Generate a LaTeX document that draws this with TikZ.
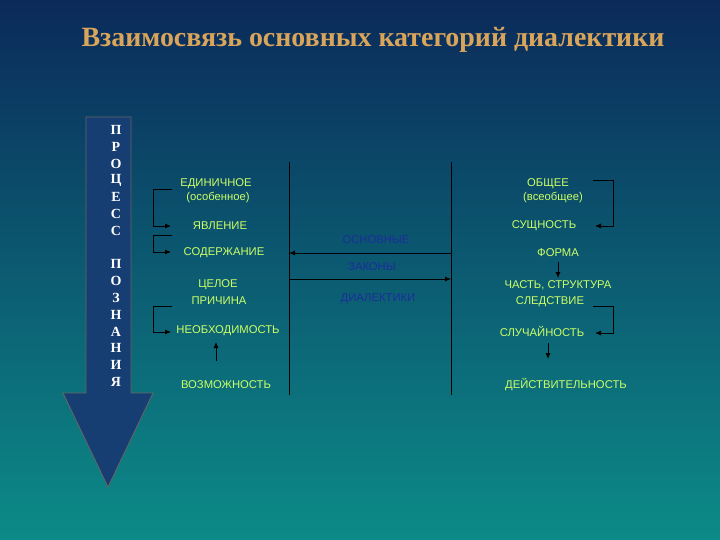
\documentclass[tikz,border=0pt]{standalone}
\usepackage{fontspec}
\setmainfont{Liberation Serif}
\setsansfont{Liberation Sans}
\usetikzlibrary{arrows.meta}

\definecolor{bgtop}{HTML}{0B2A5A}
\definecolor{bgbot}{HTML}{0C8B88}
\definecolor{titlecol}{HTML}{D9A55A}
\definecolor{catcol}{HTML}{CCFF66}
\definecolor{lawcol}{HTML}{1C2D9C}
\definecolor{arrowcol}{HTML}{173E73}

\tikzset{
  cat/.style={text=catcol, inner sep=1pt, font=\sffamily\fontsize{11.3}{13}\selectfont},
  law/.style={text=lawcol, inner sep=1pt, font=\sffamily\fontsize{11.3}{13}\selectfont},
  letter/.style={text=white, inner sep=0pt, font=\bfseries\fontsize{14}{16}\selectfont},
  link/.style={draw=black, line width=0.8bp, -{Latex[length=6bp,width=5bp]}},
  border/.style={draw=black, line width=0.8bp},
}

\begin{document}
\begin{tikzpicture}[x=1bp,y=-1bp]
  \useasboundingbox (0,0) rectangle (720,540);
  \shade[top color=bgtop, bottom color=bgbot] (0,0) rectangle (720,540);

  \node[text=titlecol, font=\bfseries\fontsize{28}{32}\selectfont] (title) at (373,40)
    {Взаимосвязь основных категорий диалектики};

  % big arrow of cognition
  \draw[fill=arrowcol, draw=black!60, line width=0.8bp]
    (86,117) -- (131,117) -- (131,393) -- (153,393) -- (108,487)
    -- (63,393) -- (86,393) -- cycle;
  \foreach \ch [count=\i] in {П,Р,О,Ц,Е,С,С,{},П,О,З,Н,А,Н,И,Я}
    \node[letter] (let\i) at (116,{130+(\i-1)*16.8}) {\ch};

  % two borders
  \coordinate (L1top) at (289,162);
  \coordinate (L1bot) at (289,395);
  \coordinate (L2top) at (451,162);
  \coordinate (L2bot) at (451,395);
  \draw[border] (L1top) -- (L1bot);
  \draw[border] (L2top) -- (L2bot);

  % left column
  \node[cat] (edin)  at (216,184) {ЕДИНИЧНОЕ};
  \node[cat] (osob)  at (218,198) {(особенное)};
  \node[cat] (yavl)  at (220,226) {ЯВЛЕНИЕ};
  \node[cat] (soder) at (224,253) {СОДЕРЖАНИЕ};
  \node[cat] (celoe) at (218,285) {ЦЕЛОЕ};
  \node[cat] (prich) at (219,301) {ПРИЧИНА};
  \node[cat] (neobh) at (228,331) {НЕОБХОДИМОСТЬ};
  \node[cat] (vozm)  at (226,385) {ВОЗМОЖНОСТЬ};

  % right column
  \node[cat] (obsh)   at (548,184) {ОБЩЕЕ};
  \node[cat] (vseob)  at (553,198) {(всеобщее)};
  \node[cat] (sushn)  at (544,226) {СУЩНОСТЬ};
  \node[cat] (forma)  at (558,253) {ФОРМА};
  \node[cat] (chast)  at (558,285) {ЧАСТЬ, СТРУКТУРА};
  \node[cat] (sled)   at (550,302) {СЛЕДСТВИЕ};
  \node[cat] (sluch)  at (542,331) {СЛУЧАЙНОСТЬ};
  \node[cat] (deistv) at (566,385) {ДЕЙСТВИТЕЛЬНОСТЬ};

  % middle
  \node[law] (osnov) at (376,240) {ОСНОВНЫЕ};
  \node[law] (zakon) at (372,267) {ЗАКОНЫ};
  \node[law] (dial)  at (378,299) {ДИАЛЕКТИКИ};

  \coordinate (lawin)  at (289,279);
  \coordinate (lawout) at (451,279);
  \draw[link] (L2top |- soder) -- (L1top |- soder);
  \draw[link] (lawin) -- (lawout);

  % left brackets
  \coordinate (la1) at (172,189);
  \coordinate (lb1) at (171,226);
  \coordinate (la2) at (172,235);
  \coordinate (lb2) at (171,252);
  \coordinate (la3) at (172,306);
  \coordinate (lb3) at (171,332);
  \foreach \k in {1,2,3}
    \draw[link] (la\k) -- ++(-19,0) |- (lb\k);
  \coordinate (vz) at (216,361);
  \coordinate (nb) at (216,342);
  \draw[link] (vz) -- (nb);

  % right brackets
  \coordinate (ra1) at (593,180);
  \coordinate (rb1) at (595,226);
  \coordinate (ra2) at (593,306);
  \coordinate (rb2) at (595,333);
  \foreach \k in {1,2}
    \draw[link] (ra\k) -- ++(20,0) |- (rb\k);
  \coordinate (fm) at (558,262);
  \coordinate (ch) at (558,278);
  \draw[link] (fm) -- (ch);
  \coordinate (sl) at (548,343);
  \coordinate (de) at (548,359);
  \draw[link] (sl) -- (de);
\end{tikzpicture}
\end{document}
